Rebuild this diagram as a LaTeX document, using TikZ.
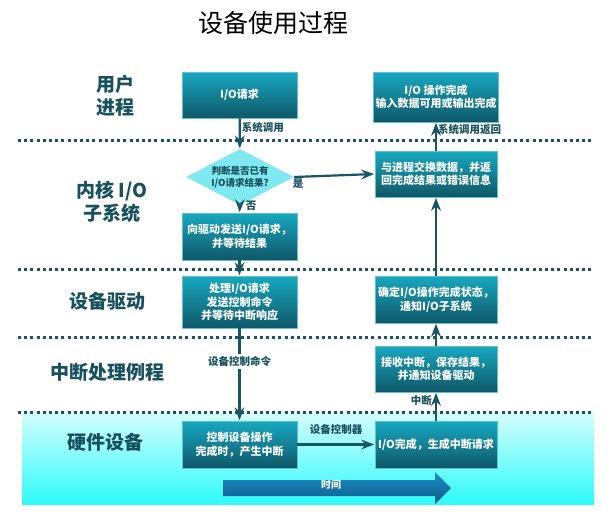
\documentclass[tikz,border=0pt]{standalone}
\usepackage{fontspec}
\setmainfont{Noto Sans CJK SC}
\usetikzlibrary{shapes.geometric, arrows.meta, positioning}
\definecolor{IoTop}{HTML}{17A8C0}
\definecolor{IoBot}{HTML}{0F5868}
\definecolor{IoEdge}{HTML}{5FC3D3}
\definecolor{IoDark}{HTML}{17505E}
\definecolor{IoLine}{HTML}{1A5566}
\definecolor{IoDia}{HTML}{80E8F0}
\definecolor{HwTop}{HTML}{D4FDFD}
\definecolor{HwBot}{HTML}{2EFAFA}
\definecolor{TimeTop}{HTML}{1F8FC4}
\definecolor{TimeBot}{HTML}{0C5A8C}

\begin{document}
\begin{tikzpicture}[x=1pt, y=-1pt, >=Stealth,
        box/.style={rectangle, draw=IoEdge, line width=0.6pt, top color=IoTop, bottom color=IoBot, text=white, align=center, font=\fontsize{11}{13.5}\selectfont\bfseries, inner sep=2pt},
        lbox/.style={box, minimum width=115pt},
        rbox/.style={box, minimum width=122pt},
        layer/.style={text=IoDark, align=center, font=\fontsize{19}{23}\selectfont\bfseries},
        sep/.style={IoLine, line width=3pt, dash pattern=on 3pt off 3.2pt},
        arrow/.style={->, IoLine, line width=2.2pt, shorten >=0.5pt},
        tag/.style={text=IoDark, font=\fontsize{10.5}{12}\selectfont\bfseries, inner sep=1pt}]

    \useasboundingbox (0,0) rectangle (612,525);

    % hardware band
    \shade[top color=HwTop, bottom color=HwBot] (22,413) rectangle (594,504);

    \node[font=\fontsize{25}{29}\selectfont] (title) at (273,23) {设备使用过程};

    % layer names
    \node[layer] (user) at (115,96) {用户\\进程};
    \node[layer] (kern) at (112,202) {内核 I/O\\子系统};
    \node[layer] (drv) at (107,301) {设备驱动};
    \node[layer] (isrname) at (107,372) {中断处理例程};
    \node[layer] (hw) at (105,442) {硬件设备};

    % separators
    \foreach \y in {140,269,337,412}
        \draw[sep] (18,\y) -- (592,\y);

    % left column
    \node[lbox, minimum height=46pt] (req) at (239.5,95) {I/O请求};
    \node[diamond, fill=IoDia, aspect=1.9, inner sep=0pt, minimum width=108pt, minimum height=56pt, text=IoDark, align=center, font=\fontsize{9.5}{12}\selectfont\bfseries] (dia) at (240,177) {判断是否已有\\I/O请求结果?};
    \node[lbox, minimum height=47pt] (send) at (239.5,236.5) {向驱动发送I/O请求，\\并等待结果};
    \node[lbox, minimum height=52pt] (proc) at (239.5,302) {处理I/O请求\\发送控制命令\\并等待中断响应};
    \node[lbox, minimum height=47pt] (ctrl) at (239.5,444.5) {控制设备操作\\完成时，产生中断};

    % right column
    \node[rbox, minimum height=50pt] (done) at (436,97) {I/O 操作完成\\输入数据可用或输出完成};
    \node[rbox, minimum height=46pt] (ret) at (436,174) {与进程交换数据，并返\\回完成结果或错误信息};
    \node[rbox, minimum height=47pt] (stat) at (436,299.5) {确定I/O操作完成状态，\\通知I/O子系统};
    \node[rbox, minimum height=46pt] (isr) at (436,369) {接收中断，保存结果，\\并通知设备驱动};
    \node[rbox, minimum height=47pt] (fin) at (436,444.5) {I/O完成，生成中断请求};

    % flow
    \draw[arrow] (req) -- node[tag, right, pos=0.3] {系统调用} (dia);
    \draw[arrow] (dia) -- node[tag, right, pos=0.1, xshift=4pt] {否} (send);
    \draw[arrow] (send) -- (proc);
    \draw[arrow] (proc) -- node[tag, fill=white, pos=0.36, inner sep=2pt] {设备控制命令} (ctrl);
    \draw[arrow] (ctrl) -- node[tag, above, yshift=8pt] {设备控制器} (fin);
    \draw[arrow] (fin) -- node[tag, left, pos=0.7, xshift=-2pt] {中断} (isr);
    \draw[arrow] (isr) -- (stat);
    \draw[arrow] (stat) -- (ret);
    \draw[arrow] (ret) -- node[tag, right, pos=0.75] {系统调用返回} (done);
    \draw[arrow] (dia.east) -- node[tag, below, pos=0.05] {是} (ret.west);

    % time axis
    \shade[top color=TimeTop, bottom color=TimeBot] (223,480) -- (435,480) -- (435,472) -- (451,488) -- (435,504) -- (435,496) -- (223,496) -- cycle;
    \node[text=white, font=\fontsize{10}{12}\selectfont\bfseries] (time) at (331,485) {时间};
\end{tikzpicture}
\end{document}
